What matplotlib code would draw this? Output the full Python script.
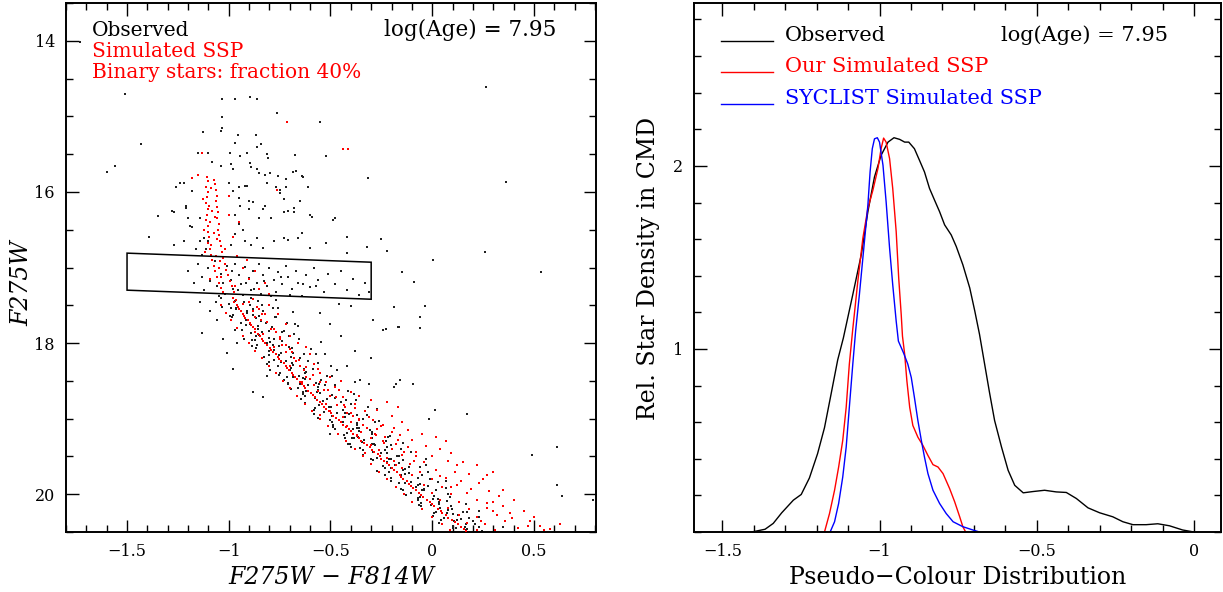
import numpy as np
import matplotlib
matplotlib.use('Agg')
import matplotlib.pyplot as plt
from matplotlib.lines import Line2D
from matplotlib.patches import Polygon
from matplotlib.ticker import MultipleLocator, FixedLocator, FuncFormatter

plt.rcParams['font.family'] = ['DejaVu Serif']

# ---------------- Left panel data (colour, magnitude) ----------------
obs_field = [(-1.73,14.02),(-1.51,14.70),(-1.43,15.37),(-1.56,15.66),(-1.60,15.74),(0.264,14.61),
             (0.362,15.87),(-0.221,16.78),(0.005,16.90),(0.259,16.79),(0.533,17.06),(-0.147,17.06),
             (-0.088,17.19),(-0.186,17.52),(-0.036,17.51),(-0.06,17.65),(-0.163,17.79),(-0.227,17.82),
             (-0.06,17.80),(-0.178,18.54),(-0.093,18.54),(0.014,18.88),(-0.014,19.00),(0.172,18.94),
             (0.611,19.37),(0.488,19.48),(0.611,19.88),(0.636,20.02),(0.79,20.07),(-0.314,15.82),
             (-0.25,16.62),(-0.32,16.73),(-0.42,16.60),(-1.39,16.60),(-1.35,16.32),(-1.27,16.26)]

obs_upper = [(-1.035,14.77),(-0.969,14.77),(-0.896,14.75),(-0.863,14.77),(-1.035,15.01),(-0.761,14.95),
             (-0.552,15.07),(-1.035,15.16),(-1.125,15.21),(-0.953,15.25),(-0.866,15.25),(-0.863,15.40),
             (-0.969,15.35),(-0.994,15.49),(-0.912,15.49),(-0.814,15.50),(-0.674,15.51),(-0.522,15.52),
             (-1.15,15.49),(-1.08,15.60),(-1.04,15.66),(-0.896,15.62),(-0.797,15.75),(-0.683,15.73),
             (-0.636,15.80),(-1.24,15.88),(-1.26,15.93),(-1.04,15.20),(-0.84,15.36),(-1.10,15.48),
             (-0.945,15.53),(-0.806,15.55),(-0.99,15.63),(-0.98,15.69),(-0.89,15.67),(-0.86,15.69),
             (-0.85,15.75),(-0.82,15.77),(-0.76,15.79),(-0.72,15.83),(-0.67,15.72),(-0.64,15.79),
             (-0.61,15.94),(-0.72,15.94),(-0.77,15.94),(-0.81,15.88),(-0.91,15.92),(-0.95,15.94),
             (-1.00,15.88),(-1.15,15.77),(-1.18,15.99),(-1.22,15.88),(-1.28,16.25),(-1.21,16.21),
             (-1.20,16.34),(-1.18,16.47),(-1.14,16.34),(-1.12,16.61),(-1.10,16.65),(-0.98,15.99),
             (-0.95,16.08),(-0.92,15.92),(-0.90,16.12),(-0.97,16.30),(-0.95,16.43),(-0.93,16.50),
             (-0.90,16.23),(-0.85,16.34),(-0.82,16.18),(-0.79,16.34),(-0.75,16.01),(-0.73,16.10),
             (-0.71,16.25),(-0.68,16.21),(-0.65,16.12),(-0.60,16.30),(-0.48,16.34),(-0.60,16.74),
             (-0.52,16.67),(-0.86,16.61),(-0.89,16.70),(-0.83,16.74),(-0.78,16.65),(-0.73,16.61),
             (-0.66,16.61),(-0.92,16.65),(-0.97,16.56),(-0.99,16.70),(-1.27,16.70),(-1.22,16.65),
             (-1.16,16.76),(-1.14,16.65),(-0.42,16.81),(-1.13,16.83),(-1.11,16.76),(-0.59,16.33),
             (-0.49,16.37),(-0.71,16.63),(-0.64,16.54),(-1.19,16.45),(-1.21,16.18),(-0.945,16.18),
             (-0.88,16.13),(-0.83,16.22),(-0.73,16.27),(-0.68,16.27),(-0.75,15.97)]

obs_box = [(-1.20,17.05),(-1.17,17.20),(-1.15,16.95),(-1.13,17.12),(-1.12,17.30),(-1.10,17.00),
           (-1.09,17.18),(-1.07,16.92),(-1.06,17.25),(-1.04,17.08),(-1.02,17.35),(-1.01,16.98),
           (-0.99,17.16),(-0.98,17.28),(-0.97,16.95),(-0.95,17.10),(-0.94,17.22),(-0.93,17.36),
           (-0.92,16.99),(-0.90,17.14),(-0.89,17.30),(-0.88,17.05),(-0.86,17.20),(-0.85,16.96),
           (-0.84,17.35),(-0.83,17.10),(-0.81,17.25),(-0.80,17.00),(-0.78,17.17),(-0.77,17.32),
           (-0.76,17.06),(-0.74,17.22),(-0.72,16.98),(-0.71,17.13),(-0.69,17.29),(-0.67,17.05),
           (-0.66,17.20),(-0.64,17.38),(-0.62,17.10),(-0.60,17.26),(-0.58,17.00),(-0.56,17.17),
           (-0.53,17.33),(-0.51,17.08),(-0.48,17.22),(-0.45,17.04),(-0.42,17.30),(-0.39,17.15),
           (-0.36,17.36),(-0.33,17.20),(-0.31,17.32),(-0.985,17.05),(-0.955,17.30),(-0.915,17.20),
           (-0.875,17.28),(-0.825,17.18),(-0.79,17.38),(-0.745,17.12),(-0.70,17.36),(-0.635,17.22),
           (-0.57,17.25),(-1.03,17.20),(-1.05,17.38)]

obs_lower = [(-1.14,17.45),(-1.09,17.58),(-1.13,17.87),(-1.01,18.13),(-0.98,18.34),(-0.96,18.00),
             (-0.88,18.65),(-0.83,18.72),(-0.81,18.43),(-0.73,18.49),(-0.65,18.54),(-0.355,18.49),
             (-0.31,18.54),(-0.19,18.58),(-0.16,18.49),(-0.46,17.48),(-0.40,17.51),(-0.29,17.69),
             (-0.24,17.83),(-0.17,17.79),(-0.50,19.20),(-0.43,19.25),(-0.40,19.38),(-1.06,17.70),
             (-1.03,17.95),(-0.55,17.60),(-0.50,17.75),(-0.45,17.90),(-0.38,18.10),(-0.42,18.30),
             (-0.30,18.20)]

obs_ms = [(-1.04,17.41),(-0.97,17.44),(-0.89,17.40),(-0.77,17.43),(-0.997,17.48),(-0.927,17.46),(-0.837,17.49),
          (-1.035,17.52),(-0.965,17.54),(-0.895,17.50),(-0.785,17.53),(-0.962,17.55),(-0.912,17.58),(-0.832,17.57),
          (-0.682,17.59),(-0.98,17.63),(-0.91,17.60),(-0.85,17.64),(-0.986,17.66),(-0.916,17.69),(-0.866,17.67),
          (-0.766,17.65),(-0.942,17.74),(-0.842,17.71),(-0.712,17.73),(-0.898,17.75),(-0.858,17.78),(-0.788,17.79),
          (-0.658,17.77),(-0.934,17.83),(-0.854,17.81),(-0.804,17.84),(-0.89,17.87),(-0.85,17.89),(-0.74,17.85),
          (-0.68,17.88),(-0.924,17.94),(-0.864,17.91),(-0.804,17.93),(-0.704,17.90),(-0.869,17.96),(-0.799,17.99),
          (-0.739,17.97),(-0.549,17.98),(-0.863,18.03),(-0.813,18.00),(-0.753,18.04),(-0.867,18.07),(-0.777,18.09),
          (-0.687,18.06),(-0.597,18.08),(-0.801,18.10),(-0.741,18.13),(-0.631,18.14),(-0.825,18.19),(-0.755,18.16),
          (-0.695,18.18),(-0.525,18.15),(-0.778,18.22),(-0.718,18.24),(-0.648,18.20),(-0.812,18.28),(-0.742,18.25),
          (-0.682,18.29),(-0.562,18.27),(-0.756,18.31),(-0.696,18.33),(-0.586,18.34),(-0.496,18.30),(-0.75,18.39),
          (-0.70,18.36),(-0.62,18.38),(-0.753,18.42),(-0.653,18.44),(-0.623,18.40),(-0.493,18.43),(-0.685,18.45),
          (-0.625,18.48),(-0.545,18.49),(-0.708,18.53),(-0.638,18.51),(-0.558,18.54),(-0.378,18.52),(-0.66,18.59),
          (-0.61,18.55),(-0.56,18.58),(-0.48,18.56),(-0.692,18.61),(-0.622,18.64),(-0.562,18.62),(-0.634,18.68),
          (-0.564,18.65),(-0.494,18.69),(-0.384,18.68),(-0.625,18.70),(-0.575,18.73),(-0.515,18.74),(-0.626,18.79),
          (-0.536,18.76),(-0.446,18.78),(-0.376,18.75),(-0.558,18.82),(-0.498,18.84),(-0.398,18.80),(-0.579,18.88),
          (-0.509,18.85),(-0.439,18.89),(-0.269,18.87),(-0.53,18.91),(-0.47,18.93),(-0.41,18.94),(-0.561,18.99),
          (-0.491,18.96),(-0.431,18.98),(-0.321,18.95),(-0.501,19.02),(-0.441,19.04),(-0.341,19.00),(-0.261,19.03),
          (-0.49,19.08),(-0.44,19.05),(-0.37,19.09),(-0.489,19.11),(-0.389,19.14),(-0.359,19.12),(-0.189,19.13),
          (-0.418,19.19),(-0.358,19.16),(-0.298,19.18),(-0.436,19.22),(-0.366,19.24),(-0.296,19.20),(-0.206,19.23),
          (-0.385,19.25),(-0.335,19.28),(-0.225,19.29),(-0.414,19.33),(-0.344,19.31),(-0.284,19.34),(-0.144,19.32),
          (-0.353,19.39),(-0.283,19.35),(-0.223,19.38),(-0.342,19.41),(-0.292,19.44),(-0.232,19.42),(-0.152,19.40),
          (-0.342,19.48),(-0.252,19.46),(-0.162,19.49),(-0.272,19.52),(-0.212,19.54),(-0.172,19.50),(-0.032,19.53),
          (-0.292,19.55),(-0.222,19.58),(-0.162,19.59),(-0.242,19.63),(-0.182,19.61),(-0.112,19.64),(-0.032,19.62),
          (-0.272,19.69),(-0.202,19.65),(-0.142,19.68),(-0.212,19.71),(-0.152,19.74),(-0.112,19.72),(-0.022,19.70),
          (-0.202,19.78),(-0.152,19.76),(-0.072,19.79),(-0.202,19.82),(-0.102,19.84),(-0.012,19.80),(0.068,19.83),
          (-0.132,19.85),(-0.072,19.88),(-0.022,19.89),(-0.152,19.93),(-0.082,19.91),(-0.042,19.94),(0.068,19.92),
          (-0.102,19.99),(-0.052,19.95),(-0.002,19.98),(-0.131,20.01),(-0.061,20.04),(0.009,20.02),(0.079,20.00),
          (-0.068,20.08),(0.002,20.06),(0.072,20.09),(-0.056,20.12),(-0.006,20.14),(0.034,20.10),(0.164,20.13),
          (-0.053,20.15),(0.037,20.18),(0.097,20.19),(0.02,20.23),(0.08,20.21),(0.15,20.24),(0.23,20.22),
          (0.005,20.29),(0.075,20.25),(0.125,20.28),(0.06,20.31),(0.12,20.34),(0.18,20.32),(0.23,20.30),
          (0.035,20.38),(0.105,20.36),(0.165,20.39),(0.10,20.42),(0.16,20.44),(0.21,20.40),(0.35,20.43),
          (0.115,20.45),(0.165,20.48),(0.245,20.49)]

obs_ms2 = [(-0.854,17.44),(-0.924,17.45),(-1.064,17.46),(-0.759,17.54),(-0.879,17.55),(-0.989,17.53),
           (-0.773,17.65),(-0.883,17.63),(-0.993,17.64),(-0.675,17.75),(-0.815,17.74),(-0.915,17.76),
           (-0.727,17.84),(-0.837,17.86),(-0.967,17.83),(-0.657,17.95),(-0.777,17.94),(-0.887,17.96),
           (-0.705,18.05),(-0.785,18.03),(-0.885,18.04),(-0.573,18.15),(-0.683,18.13),(-0.803,18.16),
           (-0.61,18.24),(-0.69,18.26),(-0.80,18.25),(-0.468,18.35),(-0.628,18.34),(-0.798,18.36),
           (-0.515,18.44),(-0.635,18.46),(-0.715,18.45),(-0.529,18.55),(-0.569,18.53),(-0.709,18.54),
           (-0.413,18.64),(-0.553,18.66),(-0.633,18.65),(-0.426,18.75),(-0.476,18.73),(-0.646,18.74),
           (-0.318,18.84),(-0.498,18.85),(-0.578,18.86),(-0.371,18.95),(-0.431,18.93),(-0.581,18.94),
           (-0.281,19.04),(-0.371,19.06),(-0.491,19.05),(-0.308,19.15),(-0.368,19.13),(-0.478,19.14),
           (-0.216,19.24),(-0.296,19.26),(-0.396,19.25),(-0.204,19.35),(-0.294,19.33),(-0.404,19.34),
           (-0.102,19.44),(-0.222,19.46),(-0.332,19.45),(-0.142,19.55),(-0.202,19.53),(-0.302,19.54),
           (-0.062,19.64),(-0.132,19.66),(-0.232,19.65),(-0.052,19.75),(-0.132,19.73),(-0.232,19.74),
           (0.028,19.84),(-0.062,19.86),(-0.162,19.85),(0.018,19.95),(-0.042,19.93),(-0.142,19.94),
           (0.089,20.04),(0.029,20.06),(-0.071,20.05),(0.094,20.15),(0.034,20.13),(-0.066,20.14),
           (0.17,20.24),(0.10,20.26),(0.01,20.25),(0.202,20.35),(0.142,20.33),(0.042,20.34),
           (0.232,20.44),(0.172,20.46),(0.102,20.45)]

sim_strand = [(-1.105,15.80),(-1.10,15.86),(-1.11,15.93),(-1.10,16.00),(-1.105,16.07),(-1.11,16.14),(-1.10,16.22),
              (-1.105,16.30),(-1.11,16.37),(-1.10,16.45),(-1.10,16.53),(-1.095,16.60),(-1.10,16.68),(-1.09,16.75),
              (-1.085,16.83),(-1.08,16.90),(-1.075,16.98),(-1.07,17.05),(-1.06,17.13),(-1.05,17.20),(-1.04,17.27),
              (-1.03,17.33),(-1.075,15.84),(-1.07,15.90),(-1.065,15.98),(-1.06,16.05),(-1.065,16.12),(-1.06,16.20),
              (-1.055,16.27),(-1.06,16.35),(-1.05,16.42),(-1.055,16.50),(-1.05,16.57),(-1.045,16.65),(-1.04,16.72),
              (-1.035,16.80),(-1.03,16.88),(-1.02,16.95),(-1.015,17.03),(-1.005,17.10),(-0.995,17.18),(-0.985,17.25),
              (-0.975,17.32),(-1.085,15.95),(-1.08,16.25),(-1.09,16.40),(-1.075,16.55),(-1.085,16.70),(-1.065,16.85),
              (-1.05,17.00),(-1.04,17.12),(-1.12,16.50),(-1.125,16.10),(-1.115,16.80),(-1.09,17.15),(-1.095,16.18),
              (-1.07,16.33),(-1.06,16.62),(-1.045,16.92)]

sim_scatter = [(-1.00,16.30),(-0.98,16.60),(-0.96,16.85),(-0.93,17.00),(-0.90,17.15),(-0.87,17.05),(-0.85,17.28),
               (-0.82,17.20),(-0.80,17.35),(-0.95,16.40),(-1.00,16.05),(-0.97,17.25),(-0.765,15.97),(-1.18,15.82),
               (-1.15,15.77),(-1.13,15.49),(-0.716,15.08),(-0.437,15.43),(-0.413,15.43),(-1.02,16.75),(-0.91,16.90)]

sim_ms_a = [(-0.98,17.40),(-0.972,17.46),(-0.955,17.52),(-0.94,17.58),(-0.925,17.64),(-0.905,17.70),(-0.893,17.76),
            (-0.872,17.82),(-0.858,17.88),(-0.836,17.94),(-0.822,18.00),(-0.798,18.06),(-0.783,18.12),(-0.760,18.18),
            (-0.743,18.24),(-0.720,18.30),(-0.705,18.36),(-0.682,18.42),(-0.664,18.48),(-0.642,18.54),(-0.623,18.60),
            (-0.597,18.66),(-0.577,18.72),(-0.552,18.78),(-0.532,18.84),(-0.506,18.90),(-0.487,18.96),(-0.460,19.02),
            (-0.437,19.08),(-0.410,19.14),(-0.387,19.20),(-0.358,19.26),(-0.336,19.32),(-0.307,19.38),(-0.285,19.44),
            (-0.258,19.50),(-0.237,19.56),(-0.21,19.62),(-0.19,19.68),(-0.16,19.74),(-0.142,19.80),(-0.115,19.86),
            (-0.093,19.92),(-0.065,19.98),(-0.045,20.04),(-0.013,20.10),(0.008,20.16),(0.042,20.22),(0.066,20.28),
            (0.098,20.34),(0.126,20.40),(0.158,20.46),
            (-0.965,17.43),(-0.958,17.49),(-0.95,17.55),(-0.928,17.61),(-0.918,17.67),(-0.897,17.73),(-0.88,17.79),
            (-0.87,17.85),(-0.846,17.91),(-0.83,17.97),(-0.81,18.03),(-0.792,18.09),(-0.77,18.15),(-0.752,18.21),
            (-0.73,18.27),(-0.712,18.33),(-0.69,18.39),(-0.676,18.45),(-0.651,18.51),(-0.63,18.57),(-0.611,18.63),
            (-0.586,18.69),(-0.566,18.75),(-0.54,18.81),(-0.52,18.87),(-0.497,18.93),(-0.474,18.99),(-0.45,19.05),
            (-0.422,19.11),(-0.398,19.17),(-0.372,19.23),(-0.35,19.29),(-0.32,19.35),(-0.297,19.41),(-0.268,19.47),
            (-0.25,19.53),(-0.22,19.59),(-0.20,19.65),(-0.173,19.71),(-0.152,19.77),(-0.126,19.83),(-0.104,19.89),
            (-0.08,19.95),(-0.055,20.01),(-0.027,20.07),(-0.002,20.13),(0.026,20.19),(0.05,20.25),(0.08,20.31),
            (0.11,20.37),(0.14,20.43),(0.165,20.49)]

sim_ms_b = [(-1.04,17.50),(-1.015,17.60),(-0.99,17.70),(-0.96,17.80),(-0.93,17.90),(-0.90,18.00),(-0.87,18.10),
            (-0.835,18.20),(-0.80,18.30),(-0.77,18.40),(-0.735,18.50),(-0.70,18.60),(-0.665,18.70),(-0.625,18.80),
            (-0.59,18.90),(-0.55,19.00),(-0.51,19.10),(-0.465,19.20),(-0.425,19.30),(-0.38,19.40),(-0.34,19.50),
            (-0.30,19.60),(-0.26,19.70),(-0.22,19.80),(-0.18,19.90),(-0.14,20.00),(-0.10,20.10),(-0.05,20.20),
            (0.00,20.30),(0.05,20.40),(0.085,20.48)]

sim_ms_c = [(-0.88,17.42),(-0.86,17.52),(-0.835,17.62),(-0.81,17.72),(-0.78,17.82),(-0.75,17.92),(-0.72,18.02),
            (-0.69,18.12),(-0.655,18.22),(-0.62,18.32),(-0.585,18.42),(-0.55,18.52),(-0.51,18.62),(-0.475,18.72),
            (-0.435,18.82),(-0.40,18.92),(-0.36,19.02),(-0.32,19.12),(-0.275,19.22),(-0.235,19.32)]

sim_binaries = [(-0.90,17.45),(-0.85,17.55),(-0.80,17.50),(-0.76,17.62),(-0.84,17.70),(-0.72,17.75),(-0.79,17.82),
                (-0.70,17.90),(-0.75,17.95),(-0.66,18.00),(-0.82,17.62),(-0.88,17.58),(-0.78,18.05),(-0.62,18.05),
                (-0.72,18.12),(-0.68,18.20),(-0.60,18.15),(-0.65,18.30),(-0.58,18.28),(-0.70,18.30),(-0.55,18.40),
                (-0.62,18.45),(-0.50,18.45),(-0.58,18.55),(-0.48,18.58),(-0.53,18.62),(-0.64,18.52),(-0.45,18.50),
                (-0.50,18.70),(-0.44,18.72),(-0.40,18.65),(-0.47,18.82),(-0.38,18.80),(-0.42,18.92),(-0.33,18.90),
                (-0.36,19.00),(-0.29,19.02),(-0.40,19.05),(-0.32,19.12),(-0.25,19.10),(-0.28,19.20),(-0.20,19.18),
                (-0.35,19.18),(-0.44,18.98),(-0.52,18.80),(-0.24,19.30),(-0.17,19.28),(-0.30,19.35),(-0.20,19.40),
                (-0.12,19.38),(-0.15,19.48),(-0.08,19.50),(-0.22,19.52),(-0.11,19.60),(-0.04,19.58),(-0.15,19.65),
                (-0.06,19.70),(0.02,19.68),(-0.10,19.75),(0.00,19.80),(0.07,19.78),(-0.18,19.62),(0.12,19.62),
                (-0.04,19.88),(0.05,19.90),(0.12,19.88),(0.00,19.98),(0.09,20.00),(0.17,19.98),(0.04,20.08),
                (0.13,20.10),(0.22,20.07),(0.08,20.18),(0.18,20.20),(0.27,20.18),(0.13,20.28),(0.22,20.30),
                (0.32,20.27),(0.17,20.38),(0.26,20.40),(0.36,20.35),(0.22,20.47),(0.31,20.48),(0.42,20.45),
                (0.30,20.10),(0.38,20.25),(0.47,20.42),(0.55,20.47),(0.63,20.40),(0.35,19.95),(0.25,19.80),
                (0.30,19.70)]

sim_binaries2 = [(-0.93,17.48),(-0.87,17.66),(-0.83,17.88),(-0.77,17.86),(-0.74,18.02),(-0.70,18.08),(-0.67,18.24),
                 (-0.63,18.36),(-0.60,18.48),(-0.56,18.34),(-0.52,18.52),(-0.56,18.64),(-0.46,18.62),(-0.43,18.85),
                 (-0.50,18.90),(-0.39,18.96),(-0.34,19.08),(-0.27,19.14),(-0.30,19.26),(-0.23,19.24),(-0.18,19.34),
                 (-0.26,19.42),(-0.14,19.44),(-0.19,19.56),(-0.09,19.56),(-0.42,19.10),(-0.37,19.22),(-0.33,19.45),
                 (-0.55,18.95),(-0.36,18.70),(-0.30,18.75),(-0.22,18.78),(-0.17,18.85),(-0.27,18.88),(-0.20,18.96),
                 (-0.31,18.98),(-0.15,19.05),(-0.24,19.08),(-0.38,18.86),(-0.12,19.15),(-0.05,19.20),(0.02,19.24),
                 (-0.10,19.28),(0.07,19.30),(-0.03,19.36),(0.04,19.40),(-0.08,19.44),(0.09,19.46),(0.00,19.50),
                 (-0.16,19.22),(-0.19,19.12),(0.08,19.56),(0.15,19.58),(0.22,19.62),(0.11,19.70),(0.18,19.73),
                 (0.27,19.75),(0.04,19.76),(0.14,19.82),(0.23,19.85),(0.09,19.90),(0.19,19.93),(0.28,19.96),
                 (0.33,20.02),(0.40,20.08),(0.27,20.12),(0.35,20.16),(0.45,20.22),(0.50,20.30),(0.30,20.22),
                 (0.39,20.32),(0.48,20.36),(0.53,20.42),(0.58,20.46),(0.24,20.36)]

box_x = [-1.5, -0.3, -0.3, -1.5]
box_y = [16.81, 16.93, 17.42, 17.30]

# ---------------- Right panel data ----------------
obs_pc_x = [-1.41,-1.401,-1.364,-1.338,-1.311,-1.274,-1.249,-1.223,-1.197,-1.175,-1.154,-1.133,-1.115,-1.085,
            -1.058,-1.037,-1.016,-0.995,-0.973,-0.954,-0.936,-0.92,-0.907,-0.889,-0.873,-0.857,-0.841,-0.825,
            -0.809,-0.793,-0.772,-0.756,-0.735,-0.713,-0.697,-0.682,-0.666,-0.650,-0.634,-0.612,-0.591,-0.570,
            -0.543,-0.512,-0.475,-0.438,-0.406,-0.374,-0.337,-0.300,-0.258,-0.226,-0.194,-0.152,-0.115,-0.078,
            -0.036,0.0]
obs_pc_y = [0.0,0.002,0.015,0.047,0.105,0.174,0.205,0.295,0.428,0.57,0.754,0.94,1.06,1.297,
            1.515,1.75,1.94,2.058,2.13,2.154,2.145,2.13,2.13,2.094,2.031,1.967,1.877,1.813,
            1.75,1.678,1.623,1.56,1.46,1.333,1.207,1.08,0.92,0.76,0.609,0.464,0.337,0.255,
            0.214,0.221,0.228,0.219,0.216,0.183,0.132,0.105,0.083,0.056,0.040,0.040,0.045,0.034,
            0.011,0.0]

our_pc_x = [-1.175,-1.159,-1.143,-1.13,-1.117,-1.106,-1.096,-1.085,-1.069,-1.053,-1.037,-1.021,-1.005,-0.995,
            -0.987,-0.979,-0.968,-0.958,-0.947,-0.939,-0.931,-0.927,-0.92,-0.913,-0.904,-0.894,-0.878,-0.862,
            -0.846,-0.83,-0.814,-0.798,-0.777,-0.761,-0.745,-0.735,-0.726]
our_pc_y = [0.0,0.101,0.228,0.355,0.5,0.681,0.917,1.11,1.37,1.605,1.768,1.868,1.986,2.094,
            2.152,2.13,2.04,1.877,1.641,1.388,1.188,1.07,0.971,0.826,0.681,0.582,0.518,0.473,
            0.418,0.368,0.355,0.319,0.237,0.165,0.083,0.029,0.0]

syc_pc_x = [-1.157,-1.143,-1.13,-1.117,-1.106,-1.096,-1.085,-1.076,-1.064,-1.048,-1.037,-1.03,-1.023,-1.016,
            -1.007,-1.0,-0.989,-0.979,-0.968,-0.958,-0.947,-0.94,-0.924,-0.91,-0.899,-0.889,-0.878,-0.867,
            -0.857,-0.846,-0.83,-0.809,-0.788,-0.766,-0.735,-0.703,-0.682]
syc_pc_y = [0.0,0.056,0.156,0.30,0.464,0.681,0.917,1.098,1.297,1.587,1.786,1.967,2.094,2.148,
            2.154,2.13,2.004,1.804,1.551,1.351,1.152,1.043,0.98,0.917,0.844,0.735,0.609,0.5,
            0.409,0.319,0.228,0.156,0.101,0.056,0.029,0.011,0.0]

age_label = 'log(Age) = 7.95'

# ---------------- Figure ----------------
W, H = 1223, 592
fig = plt.figure(figsize=(W / 100, H / 100), dpi=100)

def fx(px):
    return px / W

def fy(py):
    return 1 - py / H

ax1 = fig.add_axes([fx(66), fy(532), fx(596) - fx(66), fy(3) - fy(532)])
ax2 = fig.add_axes([fx(694), fy(532), fx(1221) - fx(694), fy(3) - fy(532)])

def fmt(v, pos):
    s = '%g' % v
    if s == '-0':
        s = '0'
    return s.replace('-', '\u2212')

for ax in (ax1, ax2):
    ax.tick_params(which='both', direction='in', top=True, right=True, width=1.0,
                   labelsize=11.5, color='black')
    ax.tick_params(which='major', length=9, pad=8)
    ax.tick_params(which='minor', length=5)
    for sp in ax.spines.values():
        sp.set_linewidth(1.4)
    ax.xaxis.set_major_formatter(FuncFormatter(fmt))
    ax.yaxis.set_major_formatter(FuncFormatter(fmt))

# Left panel
obs = np.array(obs_field + obs_upper + obs_box + obs_lower + obs_ms + obs_ms2)
sim = np.array(sim_strand + sim_scatter + sim_ms_a + sim_ms_b + sim_ms_c + sim_binaries + sim_binaries2)
ax1.scatter(obs[:, 0], obs[:, 1], s=2.8, marker='s', c='#202020', linewidths=0, zorder=2)
ax1.scatter(sim[:, 0], sim[:, 1], s=3.4, marker='s', c='#ff0000', linewidths=0, zorder=3)
ax1.add_patch(Polygon(np.column_stack([box_x, box_y]), closed=True, fill=False,
                      edgecolor='black', linewidth=1.1, zorder=4))
ax1.set_xlim(-1.8, 0.805)
ax1.set_ylim(20.5, 13.5)
ax1.xaxis.set_major_locator(MultipleLocator(0.5))
ax1.xaxis.set_minor_locator(MultipleLocator(0.1))
ax1.yaxis.set_major_locator(MultipleLocator(2))
ax1.yaxis.set_minor_locator(MultipleLocator(0.5))
ax1.set_xlabel('F275W \u2212 F814W', fontsize=17, style='italic', va='center')
ax1.xaxis.set_label_coords(0.5, (532 - 577) / 529)
ax1.set_ylabel('F275W', fontsize=17, style='italic', va='center')
ax1.yaxis.set_label_coords((22 - 66) / 530, (532 - 283) / 529)

fig.text(fx(92), fy(36), 'Observed', fontsize=14.5, color='black', va='baseline')
fig.text(fx(92), fy(57), 'Simulated SSP', fontsize=14.5, color='red', va='baseline')
fig.text(fx(92), fy(78), 'Binary stars: fraction 40%', fontsize=14.5, color='red', va='baseline')
fig.text(fx(384), fy(36), age_label, fontsize=15.5, color='black', va='baseline')

# Right panel
ax2.plot(obs_pc_x, obs_pc_y, color='black', lw=1.0)
ax2.plot(our_pc_x, our_pc_y, color='red', lw=1.0)
ax2.plot(syc_pc_x, syc_pc_y, color='blue', lw=1.0)
ax2.set_xlim(-1.59, 0.086)
ax2.set_ylim(0, 2.89)
ax2.xaxis.set_major_locator(MultipleLocator(0.5))
ax2.xaxis.set_minor_locator(MultipleLocator(0.1))
ax2.yaxis.set_major_locator(FixedLocator([1, 2]))
ax2.yaxis.set_minor_locator(MultipleLocator(0.2))
ax2.set_xlabel('Pseudo\u2212Colour Distribution', fontsize=17, va='center')
ax2.xaxis.set_label_coords(0.5, (532 - 577) / 529)
ax2.set_ylabel('Rel. Star Density in CMD', fontsize=17, va='center')
ax2.yaxis.set_label_coords((649 - 694) / 527, (532 - 268) / 529)

legend_items = [('Observed', 'black', 40.7), ('Our Simulated SSP', 'red', 72.0),
                ('SYCLIST Simulated SSP', 'blue', 104.0)]
for label, col, yb in legend_items:
    fig.add_artist(Line2D([fx(721), fx(773)], [fy(yb), fy(yb)], color=col, lw=1.0,
                          transform=fig.transFigure))
    fig.text(fx(785), fy(yb), label, fontsize=15, color=col, va='baseline')
fig.text(fx(1001), fy(40.7), age_label, fontsize=15, color='black', va='baseline')

fig.savefig('out.png', dpi=100)
